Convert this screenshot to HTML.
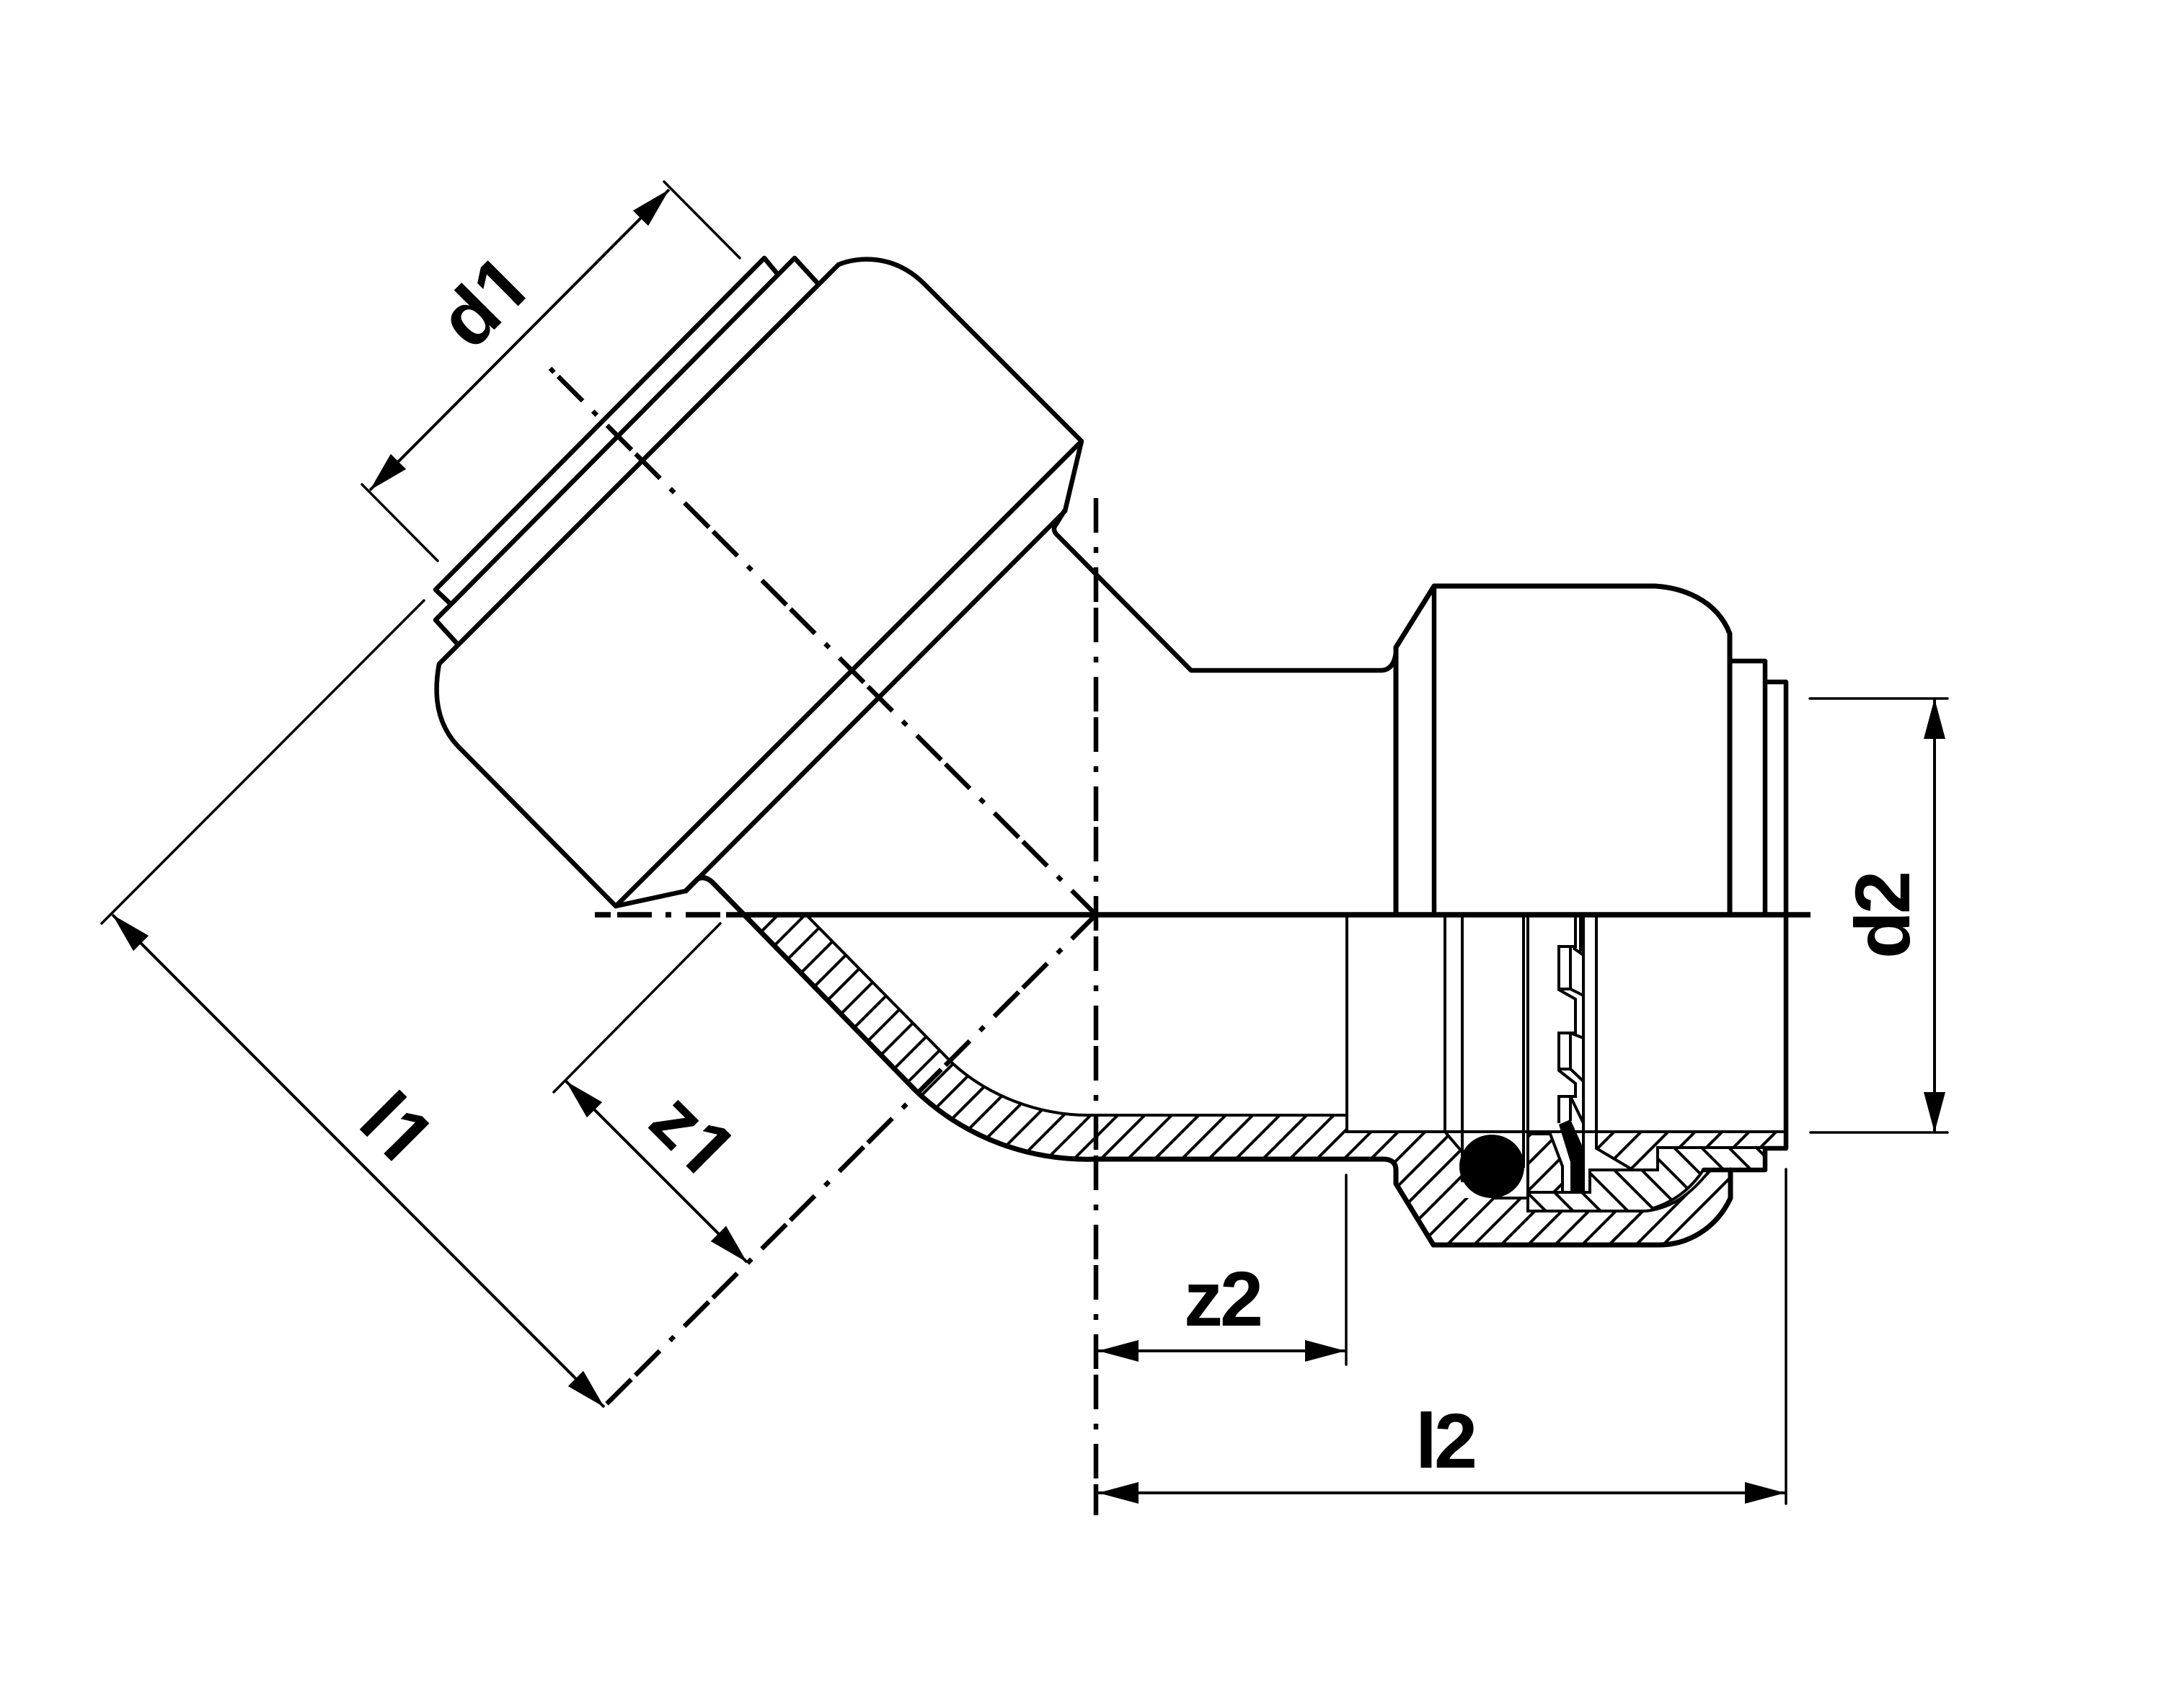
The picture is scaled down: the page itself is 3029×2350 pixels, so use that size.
<!DOCTYPE html>
<html><head><meta charset="utf-8"><style>
html,body{margin:0;padding:0;background:#fff}
svg{display:block}
text{font-family:"Liberation Sans",sans-serif;font-weight:bold;font-size:108px;fill:#000}
text.m{letter-spacing:-4px;text-anchor:middle}
</style></head><body>
<svg xmlns="http://www.w3.org/2000/svg" width="3029" height="2350" viewBox="0 0 3029 2350">
<defs>
<marker id="a" markerUnits="userSpaceOnUse" markerWidth="80" markerHeight="40" refX="70" refY="20" orient="auto-start-reverse"><path d="M70,20 L14,5 L14,35 Z" fill="#000"/></marker>
<pattern id="h1" patternUnits="userSpaceOnUse" width="26.48" height="40" patternTransform="translate(3731,0) rotate(45)"><rect x="0" y="0" width="4" height="40" fill="#000"/></pattern>
<pattern id="h2" patternUnits="userSpaceOnUse" width="26.87" height="40" patternTransform="translate(613,0) rotate(-45)"><rect x="0" y="0" width="4" height="40" fill="#000"/></pattern>
</defs>
<rect width="3029" height="2350" fill="#fff"/>

<!-- hatched regions -->
<path fill="url(#h1)" d="M1032,1269 H1118 L1321,1475 C1370,1520 1440,1547 1509,1547 H1868 V1570 H2004 L2027,1597 V1662 H2119 V1680 H2283 C2325,1675 2350,1650 2372,1623 H2400 V1662 C2380,1705 2340,1727 2301,1727 H1988 L1936,1642 V1623 Q1936,1608 1918,1608 H1520 C1430,1611 1340,1580 1270,1513 Z"/>
<path fill="url(#h1)" d="M2119,1573 H2150 L2167,1618 V1654 H2119 Z"/>
<path fill="url(#h1)" d="M2214,1570 H2477 V1593 H2299 V1623 H2263 L2214,1593 Z"/>
<path fill="url(#h2)" d="M2119,1654 H2205 V1623 H2299 V1592 H2445 V1622 H2363 C2345,1650 2320,1672 2283,1680 H2119 Z"/>

<!-- center lines -->
<g fill="none" stroke="#000" stroke-width="6.5" stroke-dasharray="48 8 48 20 8 20">
<path d="M1520,691 V2102" stroke-dashoffset="56"/>
<path d="M1520,1269 L828,1961" stroke-dashoffset="56.5"/>
<path d="M1520,1269 L763,511" stroke-dashoffset="56.5"/>
</g>
<g stroke="#000" stroke-width="7.5" fill="none">
<path d="M825,1269 H847 M856,1269 H904 M923,1269 H931 M951,1269 H999 M1007,1269 H2511"/>
</g>

<!-- main outlines -->
<g fill="none" stroke="#000" stroke-width="6.5" stroke-linejoin="round" stroke-linecap="round">
<path d="M1163,367 C1190,356 1240,352 1282,394 L1500,612 L854,1257 L951,1236 L1477,709 L1500,612"/>
<path d="M1163,367 L609,921 C601,965 606,1005 636,1036 L854,1257"/>
<path d="M1135,394 L1102,358 L604,860 L635,894"/>
<path d="M1079,381 L1060,358 L604,818 L624,837"/>
<path d="M1476,709 L1465,727 Q1458,735 1467,743 L1652,930 H1915 Q1933,930 1936,905"/>
<path d="M1936,1269 V898 L1989,813 H2295 C2330,815 2380,830 2399,879 V1269" stroke-width="7"/>
<path d="M1989,813 V1269"/>
<path d="M2399,917 H2448 V1269"/>
<path d="M2448,946 H2477 V1593 H2448 V1623 H2363"/>
<path d="M2400,1623 V1662 C2380,1705 2340,1727 2301,1727 H1988 L1936,1642 V1623 Q1936,1608 1918,1608 H1520 C1430,1611 1340,1580 1270,1513 L1032,1269 L990,1226 Q979,1214 968,1219 L951,1236" stroke-width="7"/>
</g>

<!-- thin section lines -->
<g fill="none" stroke="#000" stroke-width="4" stroke-linejoin="miter">
<path d="M1118,1269 L1321,1475 C1370,1520 1440,1547 1509,1547 H1868"/>
<path d="M1868,1269 V1570 H2477"/>
<path d="M2004,1269 V1570 L2027,1597"/>
<path d="M2028,1269 V1640"/>
<path d="M2113,1269 V1620"/>
<path d="M2119,1269 V1680 H2283 C2325,1675 2350,1650 2372,1623"/>
<path d="M2070,1662 H2119"/>
<path d="M2214,1269 V1593 L2263,1622"/>
<path d="M2119,1654 H2205 V1623 H2299 V1592 H2448"/>
<path d="M2290,1677 C2320,1668 2345,1650 2363,1622"/>
<path d="M2119,1573 H2150 L2167,1618 V1654"/>
<path d="M2196,1269 V1654"/>
<path d="M2185,1269 V1313 H2162 V1373 L2185,1386 V1433 H2162 V1485 L2185,1503 V1521 H2162 V1558"/>
<path d="M2192,1269 V1320"/>
<path d="M2178,1313 V1372 L2196,1381"/>
<path d="M2182,1315 L2196,1325"/>
<path d="M2162,1372 H2178"/>
<path d="M2178,1433 V1483 L2196,1500"/>
<path d="M2178,1433 L2196,1440"/>
<path d="M2162,1483 H2178"/>
<path d="M2178,1521 V1555"/>
<path d="M2178,1521 L2196,1558"/>
</g>
<path d="M2178,1553 L2196,1593 V1653 H2178 V1612 L2162,1560 Z" fill="#000"/>
<ellipse cx="2069" cy="1618" rx="45" ry="44" fill="#000"/>

<!-- dimension ext lines -->
<g fill="none" stroke="#000" stroke-width="3.5" stroke-linecap="round">
<path d="M921,252 L1026,358"/>
<path d="M502,672 L607,778"/>
<path d="M588,833 L141,1281"/>
<path d="M999,1281 L768,1515"/>
<path d="M2510,969 H2701"/>
<path d="M2511,1571 H2701"/>
<path d="M1867,1630 V1893"/>
<path d="M2477,1622 V2086"/>
</g>

<!-- dimension lines with arrows -->
<g fill="none" stroke="#000" stroke-width="4">
<line x1="513" y1="680" x2="928" y2="263" marker-start="url(#a)" marker-end="url(#a)"/>
<line x1="156" y1="1269" x2="838" y2="1952" marker-start="url(#a)" marker-end="url(#a)"/>
<line x1="785" y1="1500" x2="1036" y2="1751" marker-start="url(#a)" marker-end="url(#a)"/>
<line x1="2683" y1="969" x2="2683" y2="1571" marker-start="url(#a)" marker-end="url(#a)"/>
<line x1="1523" y1="1874" x2="1866" y2="1874" marker-start="url(#a)" marker-end="url(#a)"/>
<line x1="1523" y1="2071" x2="2476" y2="2071" marker-start="url(#a)" marker-end="url(#a)"/>
</g>

<!-- labels -->
<text class="m" x="1695" y="1839">z2</text>
<text class="m" x="2004" y="2036">l2</text>
<text class="m" transform="translate(2648,1271) rotate(-90)">d2</text>
<g transform="translate(654.2,488.8) rotate(-45)">
<text x="0" y="0">d</text><text x="66" y="0">1</text>
<rect x="71" y="-12" width="56" height="14" fill="#fff"/><rect x="91" y="-13" width="15" height="13" fill="#000"/>
</g>
<g transform="translate(493.4,1561.4) rotate(45)">
<text x="0" y="0">l</text><text x="30" y="0">1</text>
<rect x="35" y="-12" width="56" height="14" fill="#fff"/><rect x="55" y="-13" width="15" height="13" fill="#000"/>
</g>
<g transform="translate(895.5,1561.5) rotate(45)">
<text x="0" y="0">z</text><text x="54" y="0">1</text>
<rect x="59" y="-12" width="56" height="14" fill="#fff"/><rect x="79" y="-13" width="15" height="13" fill="#000"/>
</g>
</svg>
</body></html>
